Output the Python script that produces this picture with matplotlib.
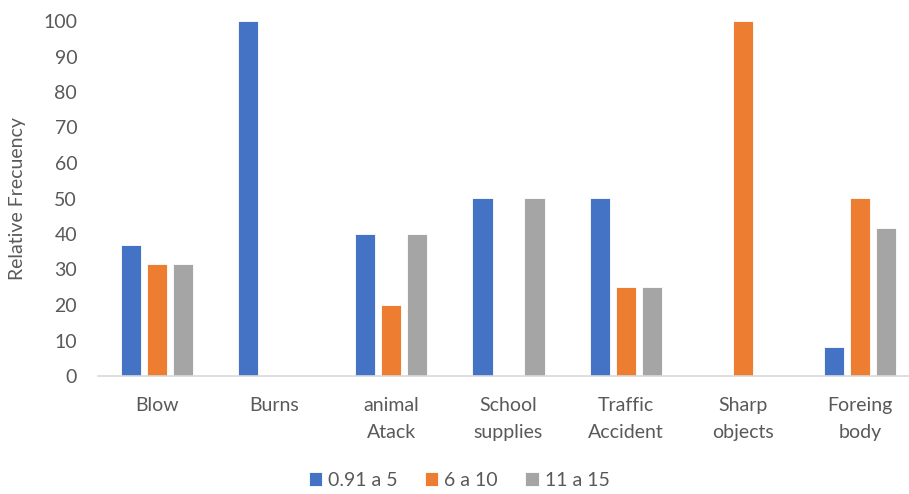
import numpy as np
import matplotlib.pyplot as plt

plt.rcParams['font.family'] = ['Lato', 'DejaVu Sans']

categories = ["Blow", "Burns", "animal\nAtack", "School\nsupplies", "Traffic\nAccident", "Sharp\nobjects", "Foreing\nbody"]
series_names = ["0.91 a 5", "6 a 10", "11 a 15"]
age_0_5 = [36.8, 100, 40, 50, 50, 0, 8.3]
age_6_10 = [31.6, 0, 20, 0, 25, 100, 50]
age_11_15 = [31.6, 0, 40, 50, 25, 0, 41.7]
colors = ["#4472C4", "#ED7D31", "#A5A5A5"]

text_color = "#595959"
fig = plt.figure(figsize=(9.09, 4.94), dpi=100)
ax = fig.add_axes([98 / 909, 118 / 494, 821 / 909, 355 / 494])

x = np.arange(len(categories))
width = 0.172
step = 0.222
for i, (vals, name) in enumerate(zip([age_0_5, age_6_10, age_11_15], series_names)):
    ax.bar(x + (i - 1) * step, vals, width, color=colors[i], label=name,
           edgecolor="white", linewidth=0.6)

ax.set_xlim(-0.5, len(categories) - 0.5)
ax.set_ylim(0, 100)
ax.set_yticks(range(0, 101, 10))
ax.set_xticks(x)
ax.set_xticklabels(categories, linespacing=1.75)
ax.tick_params(axis="both", length=0, labelsize=14, colors=text_color)
ax.tick_params(axis="x", pad=15)
ax.tick_params(axis="y", pad=15)
for s in ["top", "right", "left"]:
    ax.spines[s].set_visible(False)
ax.spines["bottom"].set_color("#D9D9D9")
ax.spines["bottom"].set_linewidth(1.2)
ax.set_ylabel("Relative Frecuency", fontsize=14, color=text_color, labelpad=12)

fig.legend(loc="lower center", bbox_to_anchor=(0.505, -0.025), ncol=3, frameon=False,
           fontsize=14, labelcolor=text_color, handlelength=0.7, handleheight=0.7,
           handletextpad=0.3, columnspacing=1.4)

fig.savefig("out.png", dpi=100)
